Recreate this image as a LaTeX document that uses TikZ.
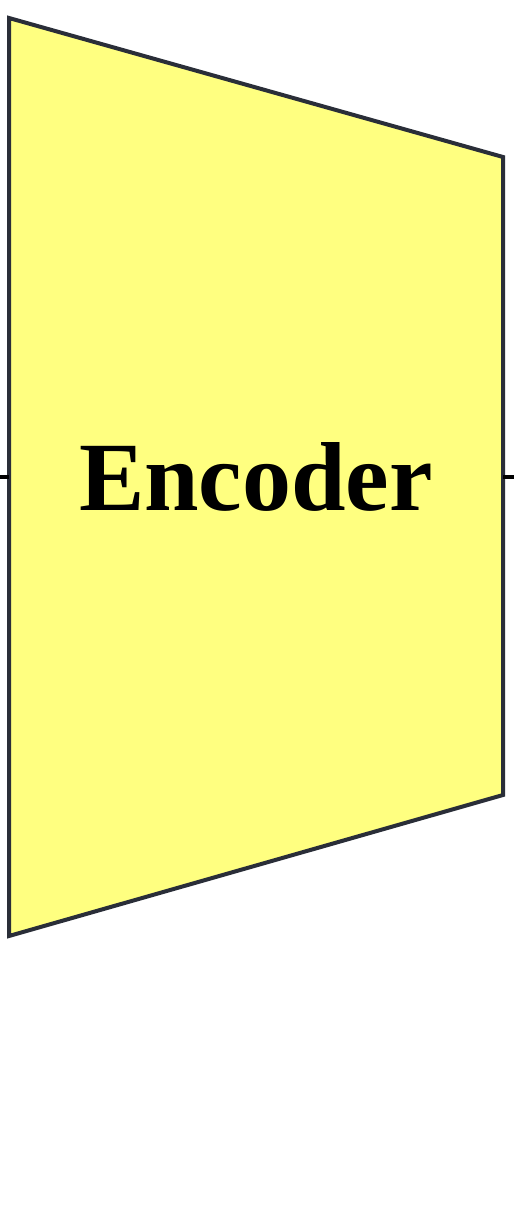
\documentclass[tikz,border=0pt]{standalone}
\usepackage{fontspec}
\setmainfont{Liberation Serif}
\definecolor{encfill}{HTML}{FFFF80}
\definecolor{encedge}{HTML}{2A2E38}
\begin{document}
\begin{tikzpicture}[x=1pt,y=-1pt,
  block/.style={fill=encfill,draw=encedge,line width=4pt,line join=miter},
  stub/.style={draw=black,line width=4pt},
  label/.style={font=\fontsize{98}{110}\selectfont\bfseries,inner sep=0pt}]
  \useasboundingbox (0,0) rectangle (514,1228);
  % encoder trapezoid
  \coordinate (tl) at (9,18);
  \coordinate (tr) at (503,157);
  \coordinate (br) at (503,795);
  \coordinate (bl) at (9,936);
  \path[block] (tl) -- (tr) -- (br) -- (bl) -- cycle;
  \node[label] (enc) at (256,477) {Encoder};
  % input and output leads
  \coordinate (inL) at (0,477);
  \coordinate (inR) at (9,477);
  \coordinate (outL) at (503,477);
  \coordinate (outR) at (514,477);
  \draw[stub] (inL) -- (inR);
  \draw[stub] (outL) -- (outR);
\end{tikzpicture}
\end{document}
